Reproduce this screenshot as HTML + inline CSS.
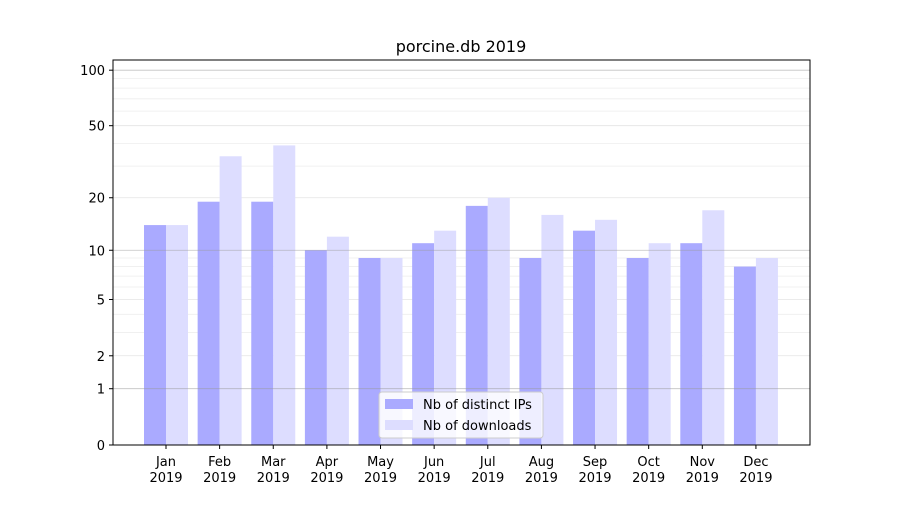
<!DOCTYPE html>
<html><head><meta charset="utf-8"><style>
body{margin:0;background:#fff;}
svg text{font-family:"DejaVu Sans","Liberation Sans",sans-serif;fill:#000;}
</style></head><body>
<svg width="900" height="500" xmlns="http://www.w3.org/2000/svg">
<rect width="900" height="500" fill="#fff"/>
<text x="461" y="52" font-size="16" text-anchor="middle">porcine.db 2019</text>
<g id="grid"></g>
<g id="bars"></g>
<g id="gridtop"></g>
<rect x="113" y="60" width="697" height="385" fill="none" stroke="#000" stroke-width="1"/>
<g id="yaxis"></g>
<g id="xaxis"></g>
<g>
<rect x="379" y="392" width="164" height="46" rx="3" fill="#fff" fill-opacity="0.8" stroke="#ccc"/>
<rect x="385" y="399" width="28" height="10" fill="#aaaaff"/>
<text x="423" y="409" font-size="13">Nb of distinct IPs</text>
<rect x="385" y="420" width="28" height="10" fill="#ddddff"/>
<text x="423" y="430" font-size="13">Nb of downloads</text>
</g>
</svg>
<script>
const months=["Jan","Feb","Mar","Apr","May","Jun","Jul","Aug","Sep","Oct","Nov","Dec"];
const ips=[14,19,19,10,9,11,18,9,13,9,11,8];
const downloads=[14,34,39,12,9,13,20,16,15,11,17,9];
const yTicks=[0,1,2,5,10,20,50,100];
const yMinor=[3,4,6,7,8,9,30,40,60,70,80,90];
const NS="http://www.w3.org/2000/svg";
const X0=113,X1=810,Y0=445,K=187;
function y(v){return Y0-K*Math.log10(1+v);}
function xc(i){return 166+i*53.63;}
function mk(t,a,p){const e=document.createElementNS(NS,t);for(const k in a)e.setAttribute(k,a[k]);p.appendChild(e);return e;}
const grid=document.getElementById('grid'),gt=document.getElementById('gridtop');
yMinor.forEach(v=>{const l=mk('line',{x1:X0,x2:X1,y1:y(v),y2:y(v),stroke:'#eee','stroke-width':0.8},grid);

});
yTicks.forEach(v=>{const major=(v===1||v===10||v===100);const l=mk('line',{x1:X0,x2:X1,y1:y(v),y2:y(v),stroke:major?'#999':'#e4e4e4','stroke-width':0.8,'stroke-opacity':major?0.6:1},major?gt:grid);

});
const bars=document.getElementById('bars');
const bw=22;
months.forEach((m,i)=>{
const a=mk('rect',{x:xc(i)-bw,y:y(ips[i]),width:bw,height:Y0-y(ips[i]),fill:'#aaaaff'},bars);


const b=mk('rect',{x:xc(i),y:y(downloads[i]),width:bw,height:Y0-y(downloads[i]),fill:'#ddddff'},bars);


});
const ya=document.getElementById('yaxis');
yTicks.forEach(v=>{mk('line',{x1:X0-4,x2:X0,y1:y(v),y2:y(v),stroke:'#000'},ya);
const t=mk('text',{x:X0-8,y:y(v)+5,'font-size':13,'text-anchor':'end'},ya);t.textContent=v;

});
const xa=document.getElementById('xaxis');
months.forEach((m,i)=>{mk('line',{x1:xc(i),x2:xc(i),y1:Y0,y2:Y0+4,stroke:'#000'},xa);
const t=mk('text',{x:xc(i),y:466,'font-size':13,'text-anchor':'middle'},xa);t.textContent=m;


const t2=mk('text',{x:xc(i),y:482,'font-size':13,'text-anchor':'middle'},xa);t2.textContent='2019';

});
</script>
</body></html>
